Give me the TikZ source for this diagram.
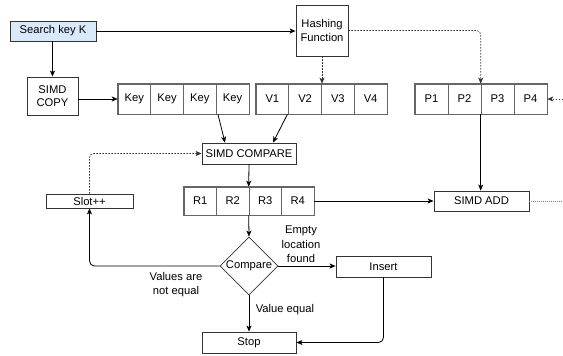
\documentclass[tikz,border=0pt]{standalone}
\usepackage{fontspec}
\setmainfont{Liberation Sans}
\usetikzlibrary{shapes.geometric,arrows.meta,calc}
\definecolor{boxline}{HTML}{333333}
\definecolor{rowline}{HTML}{666666}
\definecolor{keyfill}{HTML}{DAE8FC}
\tikzset{
  every node/.style={font=\fontsize{11.2}{13.5}\selectfont, inner sep=0pt, align=center},
  box/.style={draw=boxline, line width=0.8pt, rectangle},
  cell/.style={draw=rowline, line width=0.6pt, rectangle, minimum height=30pt},
  rowframe/.style={draw=rowline, line width=1.4pt},
  arr/.style={draw=black, line width=0.8pt, -{Stealth[length=6pt,width=5pt,inset=1.5pt]}},
  dotarr/.style={draw=boxline, line width=0.7pt, dash pattern=on 1.5pt off 1.5pt, -{Stealth[length=6pt,width=5pt,inset=1.5pt]}, rounded corners=4pt},
  dotline/.style={draw=gray, line width=0.7pt, dash pattern=on 1pt off 1pt},
  lbl/.style={font=\fontsize{11.2}{14.5}\selectfont}
}
\begin{document}
\begin{tikzpicture}[x=1pt,y=-1pt]
\useasboundingbox (0,0) rectangle (563,356);
% boxes
\node[box, fill=keyfill, minimum width=86pt, minimum height=20pt] (search) at (53,31) {Search key K};
\node[box, minimum width=52pt, minimum height=51pt] (hash) at (322,30.5) {Hashing\\Function};
\node[box, minimum width=51pt, minimum height=38pt] (copy) at (52.5,96) {SIMD\\COPY};
\node[box, minimum width=94pt, minimum height=21pt] (cmp) at (249,153.5) {SIMD COMPARE};
\node[box, minimum width=87pt, minimum height=14pt] (slot) at (89.5,201) {Slot++};
\node[box, minimum width=95pt, minimum height=20pt] (add) at (481.5,201) {SIMD ADD};
\node[box, diamond, minimum width=58pt, minimum height=58pt, aspect=1] (dia) at (249,266) {Compare};
\node[box, minimum width=95pt, minimum height=21pt] (ins) at (383.5,266.5) {Insert};
\node[box, minimum width=94pt, minimum height=21pt] (stop) at (249,342.5) {Stop};
% key row
\foreach \i/\t in {1/Key,2/Key,3/Key,4/Key}
  \node[cell, minimum width=32.75pt] (k\i) at ({118+32.75*(\i-0.5)},99) {\t};
\draw[rowframe] (k1.north west) rectangle (k4.south east);
% V row
\foreach \i in {1,...,4}
  \node[cell, minimum width=32.75pt] (v\i) at ({256+32.75*(\i-0.5)},99) {V\i};
\draw[rowframe] (v1.north west) rectangle (v4.south east);
% P row
\foreach \i in {1,...,4}
  \node[cell, minimum width=33pt] (p\i) at ({415+33*(\i-0.5)},99) {P\i};
\draw[rowframe] (p1.north west) rectangle (p4.south east);
% R row
\foreach \i in {1,...,4}
  \node[cell, minimum width=32.5pt, minimum height=28pt] (r\i) at ({184+32.5*(\i-0.5)},201) {R\i};
\draw[rowframe] (r1.north west) rectangle (r4.south east);
% free ends
\coordinate (pin) at (563,99);
\coordinate (addout) at (563,201);
% connectors
\draw[arr] (search.east) -- (search.east -| hash.west);
\draw[arr] (search.south -| copy.north) -- (copy.north);
\draw[arr] (copy.east |- k1.west) -- (k1.west);
\draw[dotarr] (hash.south) -- (hash.south |- v3.north);
\draw[dotarr] (hash.east) -| (p3.north west);
\draw[dotarr] (pin) -- (p4.east);
\draw[arr] ($(k4.south west)+(2,0)$) -- ($(cmp.north)+(-24,0)$);
\draw[arr] ($(v2.south west)+(-1,0)$) -- ($(cmp.north)+(24,0)$);
\draw[arr] (cmp.south) -- (r3.north west);
\draw[arr] (r3.south west) -- (dia.north);
\draw[arr] (r4.east) -- (add.west);
\draw[arr] (p3.south west) -- (p3.south west |- add.north);
\draw[dotline] (add.east) -- (addout);
\draw[arr, rounded corners=5pt] (dia.west) -| (slot.south);
\draw[dotarr] (slot.north) |- (cmp.west);
\draw[arr] (dia.east) -- (dia.east -| ins.west);
\draw[arr] (dia.south) -- (stop.north);
\draw[arr, rounded corners=5pt] (ins.south) |- (stop.east);
% labels
\node[lbl] (lempty) at (301,244.5) {Empty\\location\\found};
\node[lbl] (lneq) at (176,284.5) {Values are\\not equal};
\node[lbl] (leq) at (285,310) {Value equal};
\end{tikzpicture}
\end{document}
